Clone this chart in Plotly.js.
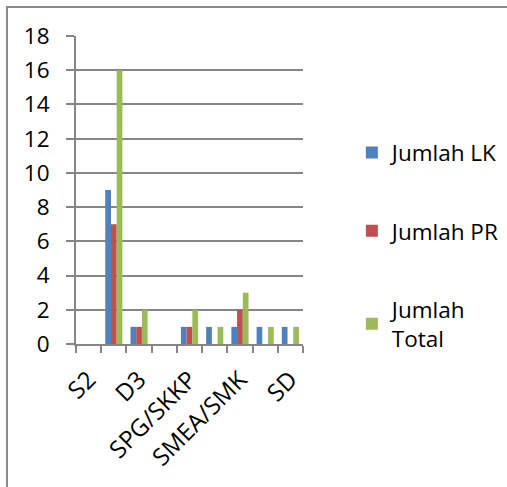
<!DOCTYPE html>
<html><head><meta charset="utf-8">
<script src="https://cdn.plot.ly/plotly-3.0.1.min.js"></script>
<style>
html,body{margin:0;padding:0;background:#fff;}
#frame{position:absolute;left:6px;top:6px;width:520px;height:479px;border-left:2px solid #8a8a8a;border-top:2px solid #8a8a8a;border-bottom:1px solid #c0c0c0;pointer-events:none;}
#chart{position:absolute;left:0;top:0;width:507px;height:487px;}
</style></head>
<body>
<div id="chart"></div>
<div id="frame"></div>
<script>
var categories = ["S2","S1","D3","D2","SPG/SKKP","SMA","SMEA/SMK","SMP","SD"];
var tickLabels = ["S2","","D3","","SPG/SKKP","","SMEA/SMK","","SD"];
var jumlahLK    = [0, 9, 1, 0, 1, 1, 1, 1, 1];
var jumlahPR    = [0, 7, 1, 0, 1, 0, 2, 0, 0];
var jumlahTotal = [0, 16, 2, 0, 2, 1, 3, 1, 1];
var seriesNames = ["Jumlah LK","Jumlah PR","Jumlah<br>Total"];
var colors = ["#4F81BD","#C0504D","#9BBB59"];
var vals = [jumlahLK, jumlahPR, jumlahTotal];

var font = {family:"'Open Sans', sans-serif", size:22.5, color:"#000"};
var xfont = {family:"'Open Sans', sans-serif", size:24, color:"#000"};
var traces = vals.map(function(v,i){
  return {type:"bar", x:categories, y:v, name:seriesNames[i], marker:{color:colors[i]}, legendgroup:"g"+i};
});
var layout = {
  width:507, height:487,
  margin:{l:76, r:204, t:36, b:143, autoexpand:false},
  paper_bgcolor:"#fff", plot_bgcolor:"#fff",
  font:font,
  bargap:0.32, bargroupgap:0,
  showlegend:true,
  legend:{xref:"container", x:0.694, xanchor:"left", y:0.69, yanchor:"top", font:font, tracegroupgap:46, itemwidth:30, bgcolor:"rgba(0,0,0,0)"},
  xaxis:{type:"category", tickmode:"array", tickvals:categories, ticktext:tickLabels, tickangle:-45,
         tickson:"boundaries", ticks:"outside", ticklen:7, tickcolor:"#868686", tickwidth:2,
         showline:true, linecolor:"#868686", linewidth:2, showgrid:false, tickfont:xfont, fixedrange:true,
         ticklabelstandoff:10},
  yaxis:{range:[0,18], dtick:2, tick0:0, ticks:"outside", ticklen:8, tickcolor:"#868686", tickwidth:2,
         showgrid:true, gridcolor:"#868686", gridwidth:2, showline:true, linecolor:"#868686", linewidth:2,
         zeroline:false, tickfont:font, ticklabelstandoff:12}
};
Plotly.newPlot("chart", traces, layout, {displayModeBar:false, staticPlot:true});
</script>
</body></html>
